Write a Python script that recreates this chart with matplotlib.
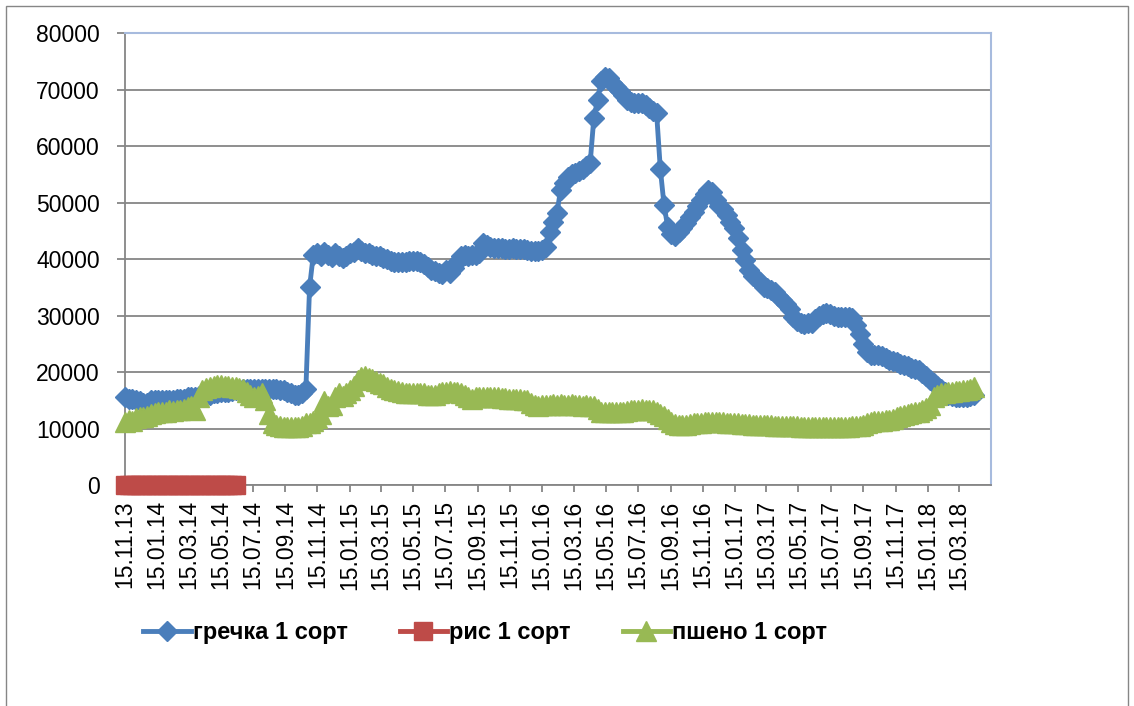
import numpy as np
import pandas as pd
import matplotlib
matplotlib.use('Agg')
import matplotlib.pyplot as plt
import matplotlib.dates as mdates
from matplotlib.patches import Rectangle

# weekly observations starting 15.11.2013
start_date = "2013-11-15"

buckwheat = [
    15500, 15300, 15200, 15000, 14800, 14500, 14600, 15000, 15000, 15000,
    15000, 15000, 15100, 15000, 15200, 15300, 15300, 15500, 15500, 15600,
    15800, 15800, 16000, 16000, 16200, 16300, 16500, 16500, 16500, 16700,
    16800, 16800, 17000, 17000, 17000, 17000, 17000, 17000, 17000, 17000,
    17000, 17000, 16800, 16800, 16500, 16200, 16000, 16000, 16300, 17000,
    35000, 40700, 41000, 40500, 41200, 40800, 40300, 41000, 40500, 40200,
    40500, 41000, 41200, 42000, 41500, 41000, 41000, 40800, 40600, 40500,
    40200, 40000, 39600, 39500, 39400, 39400, 39500, 39700, 39600, 39600,
    39500, 39200, 38600, 38000, 37800, 37500, 37300, 38000, 37600, 38500,
    39500, 40500, 40700, 40600, 40700, 40800, 41000, 42800, 42500, 42200,
    42000, 42000, 42000, 41800, 41800, 42000, 41800, 41800, 41700, 41600,
    41500, 41500, 41400, 41600, 42200, 44800, 46500, 48100, 52300, 53500,
    54500, 55000, 55300, 55500, 56000, 56500, 57000, 65000, 68100, 71500,
    72200, 72000, 71200, 70500, 69800, 69000, 68100, 67800, 67600, 67600,
    67600, 67200, 66800, 66200, 65800, 56000, 49600, 45700, 44500, 44000,
    44800, 45500, 46300, 47500, 48300, 49300, 50500, 51500, 52200, 51800,
    50500, 49300, 48800, 47800, 46500, 45500, 43700, 41600, 39800, 38100,
    37000, 36600, 36000, 35100, 34800, 34500, 34200, 33500, 32700, 32000,
    31200, 29800, 29000, 28600, 28500, 28600, 28600, 29300, 30000, 30300,
    30400, 30200, 30000, 29800, 29800, 29800, 29800, 29500, 28300, 26800,
    25000, 23500, 23000, 23000, 23000, 22800, 22500, 22200, 22000, 21800,
    21500, 21300, 21000, 20800, 20500, 20300, 19800, 19300, 18600, 18000,
    17500, 17000, 16500, 16000, 15800, 15500, 15500, 15500, 15600, 15800, 16000,
]

rice = [
    0, 0, 0, 0, 0, 0, 0, 0, 0, 0,
    0, 0, 0, 0, 0, 0, 0, 0, 0, 0,
    0, 0, 0, 0, 0, 0, 0, 0, 0, 0, 0,
]

millet = [
    11200, 11500, 11300, 11800, 12000, 12100, 12300, 12500, 12800, 13000,
    13000, 13000, 13200, 13100, 13300, 13300, 13500, 13800, 14000, 13200,
    15500, 16800, 17200, 17400, 17600, 17700, 17700, 17600, 17500, 17400,
    17300, 17200, 17000, 16500, 16000, 15500, 15800, 16300, 15000, 12500,
    11000, 10600, 10400, 10300, 10200, 10200, 10300, 10300, 10500, 10900,
    11000, 11300, 11800, 12500, 14800, 14000, 14200, 15500, 16300, 15800,
    16200, 16800, 17500, 18600, 19200, 19300, 19000, 18800, 18500, 18000,
    17800, 17400, 17000, 16800, 16600, 16500, 16300, 16200, 16300, 16200,
    16200, 16200, 16000, 15900, 15900, 16200, 16400, 16500, 16600, 16500,
    16500, 16200, 15900, 15600, 15300, 15500, 15600, 15600, 15500, 15500,
    15600, 15500, 15400, 15400, 15300, 15300, 15200, 15200, 15000, 15000,
    14500, 14200, 14000, 14100, 14200, 14200, 14300, 14200, 14300, 14200,
    14200, 14300, 14200, 14200, 14000, 14100, 14000, 13900, 13500, 13000,
    12900, 13000, 13000, 12900, 13000, 13000, 13100, 13200, 13300, 13300,
    13400, 13300, 13300, 13200, 13000, 12600, 12200, 11700, 11200, 10800,
    10600, 10600, 10700, 10800, 10900, 10900, 11000, 11100, 11100, 11200,
    11200, 11200, 11100, 11000, 10900, 10900, 10900, 10800, 10800, 10800,
    10700, 10700, 10700, 10600, 10600, 10600, 10500, 10500, 10500, 10500,
    10400, 10400, 10400, 10300, 10300, 10300, 10300, 10200, 10200, 10200,
    10200, 10200, 10200, 10300, 10300, 10300, 10300, 10400, 10400, 10500,
    10700, 11000, 11200, 11300, 11300, 11400, 11500, 11500, 11700, 12000,
    12200, 12400, 12600, 12800, 13000, 13000, 13300, 13700, 14200, 15500,
    16000, 16200, 16300, 16400, 16500, 16600, 16700, 16800, 16800, 17000, 17400,
]

labels = ["гречка 1 сорт", "рис 1 сорт", "пшено 1 сорт"]
y_ticks = [0, 10000, 20000, 30000, 40000, 50000, 60000, 70000, 80000]

dates = pd.date_range(start_date, periods=len(buckwheat), freq="7D")
tick_dates = pd.date_range("2013-11-01", "2018-03-01", freq="2MS") + pd.Timedelta(days=14)

plt.rcParams['font.family'] = ['Liberation Sans', 'DejaVu Sans']

fig = plt.figure(figsize=(11.34, 7.06), dpi=100)
ax = fig.add_axes([0.1102, 0.3130, 0.7637, 0.6402])

blue = "#4a7ebb"
red = "#be4b48"
green = "#98b954"

ax.plot(dates, buckwheat, color=blue, lw=3.5, marker="D", ms=10.5,
        mfc=blue, mec=blue, mew=1, clip_on=False, zorder=3, label=labels[0])
ax.plot(dates[:len(rice)], rice, color=red, lw=3.5, marker="s", ms=13,
        mfc=red, mec=red, mew=1, clip_on=False, zorder=4, label=labels[1])
ax.plot(dates, millet, color=green, lw=3.5, marker="^", ms=14,
        mfc=green, mec=green, mew=1, clip_on=False, zorder=5, label=labels[2])

ax.set_ylim(0, 80000)
ax.set_yticks(y_ticks)
ax.set_xlim(pd.Timestamp("2013-11-15"), pd.Timestamp("2018-05-15"))
ax.set_xticks(tick_dates)
ax.xaxis.set_major_formatter(mdates.DateFormatter("%d.%m.%y"))

ax.yaxis.grid(True, color="#868686", lw=1.3)
ax.set_axisbelow(True)

for s in ["left", "bottom"]:
    ax.spines[s].set_color("#868686")
    ax.spines[s].set_linewidth(1.3)
for s in ["top", "right"]:
    ax.spines[s].set_color("#a7bbde")
    ax.spines[s].set_linewidth(1.5)

ax.tick_params(axis="y", direction="out", length=6, width=1.3, color="#868686",
               pad=12, labelsize=16.5)
ax.tick_params(axis="x", direction="out", length=5, width=1.3, color="#868686",
               pad=6, labelsize=16.5, rotation=90)

fig.legend(loc="center", bbox_to_anchor=(0.428, 0.104), ncol=3, frameon=False,
           handlelength=2.0, handletextpad=0.1, columnspacing=2.2,
           prop={"weight": "bold", "size": 17})

# chart area border
fig.add_artist(Rectangle((6 / 1134, -0.05), 1122 / 1134, 1 - 6 / 706 + 0.05,
                         transform=fig.transFigure, fill=False,
                         edgecolor="#868686", lw=1))

fig.savefig("out.png", dpi=100)
